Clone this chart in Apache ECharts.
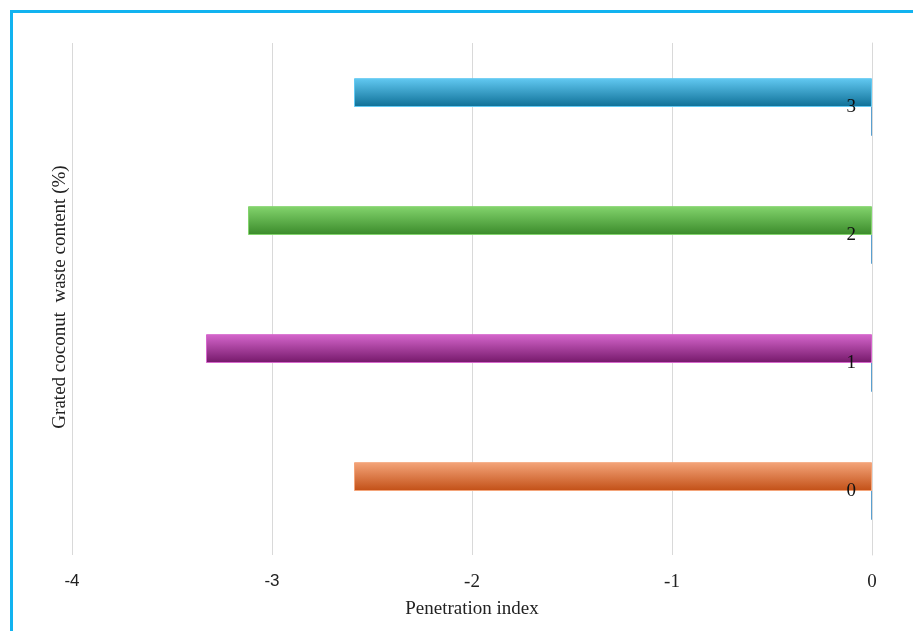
<!DOCTYPE html>
<html>
<head>
<meta charset="utf-8">
<script src="https://cdn.jsdelivr.net/npm/echarts@6/dist/echarts.min.js"></script>
<style>
html, body { margin: 0; padding: 0; background: #fff; }
#chart { width: 913px; height: 631px; }
</style>
</head>
<body>
<div id="chart"></div>
<script>
// 数据
var categories = ['0', '1', '2', '3'];
var penetration = [-2.59, -3.33, -3.12, -2.59];
var secondSeries = [-0.005, -0.005, -0.005, -0.005];
var xTicks = [-4, -3, -2, -1, 0];

// 每根柱子的渐变色 (上浅下深)
var barColors = [
    ['#f4a57a', '#c24f16'],
    ['#d566cc', '#741869'],
    ['#83d46d', '#3a8a2a'],
    ['#62c9f2', '#0e6f96']
];

function grad(c) {
    return new echarts.graphic.LinearGradient(0, 0, 0, 1, [
        {offset: 0, color: c[0]},
        {offset: 1, color: c[1]}
    ]);
}

var mainData = penetration.map(function (v, i) {
    return {
        value: v,
        itemStyle: {
            color: grad(barColors[i]),
            borderColor: barColors[i][0],
            borderWidth: 1
        }
    };
});

var chart = echarts.init(document.getElementById('chart'));
chart.setOption({
    animation: false,
    backgroundColor: '#fff',
    grid: {
        left: 72,
        right: 41,
        top: 43,
        bottom: 76
    },
    xAxis: {
        type: 'value',
        min: xTicks[0],
        max: xTicks[xTicks.length - 1],
        interval: 1,
        name: 'Penetration index',
        nameLocation: 'middle',
        nameGap: 45,
        nameTextStyle: {
            fontFamily: 'Liberation Serif',
            fontSize: 19,
            color: '#222'
        },
        axisLine: {show: false},
        axisTick: {show: false},
        splitLine: {lineStyle: {color: '#d9d9d9', width: 1}},
        axisLabel: {
            margin: 18,
            formatter: function (v) {
                return v <= -3 ? '{s|' + v + '}' : '{r|' + v + '}';
            },
            rich: {
                s: {fontFamily: 'Liberation Sans', fontSize: 17, color: '#222'},
                r: {fontFamily: 'Liberation Serif', fontSize: 19, color: '#222'}
            }
        }
    },
    yAxis: {
        type: 'category',
        data: categories,
        position: 'right',
        z: 10,
        axisLine: {onZero: false, lineStyle: {color: '#d9d9d9', width: 1}},
        axisTick: {inside: true, length: 7, lineStyle: {color: '#d9d9d9'}},
        axisLabel: {
            inside: true,
            margin: 16,
            fontFamily: 'Liberation Serif',
            fontSize: 19,
            color: '#111'
        }
    },
    graphic: [
        {
            type: 'rect',
            shape: {x: 11.5, y: 11.5, width: 1000, height: 1000},
            style: {fill: null, stroke: '#12b3f0', lineWidth: 3},
            silent: true
        },
        {
            type: 'text',
            x: 60,
            y: 297,
            rotation: Math.PI / 2,
            style: {
                text: 'Grated coconut  waste content (%)',
                fontFamily: 'Liberation Serif',
                fontSize: 19,
                fill: '#222',
                align: 'center',
                verticalAlign: 'middle'
            }
        }
    ],
    series: [
        {
            type: 'bar',
            data: mainData,
            barGap: '0%',
            barCategoryGap: '55%'
        },
        {
            type: 'bar',
            data: secondSeries,
            itemStyle: {color: '#5aa0d0'}
        }
    ]
});
</script>
</body>
</html>
